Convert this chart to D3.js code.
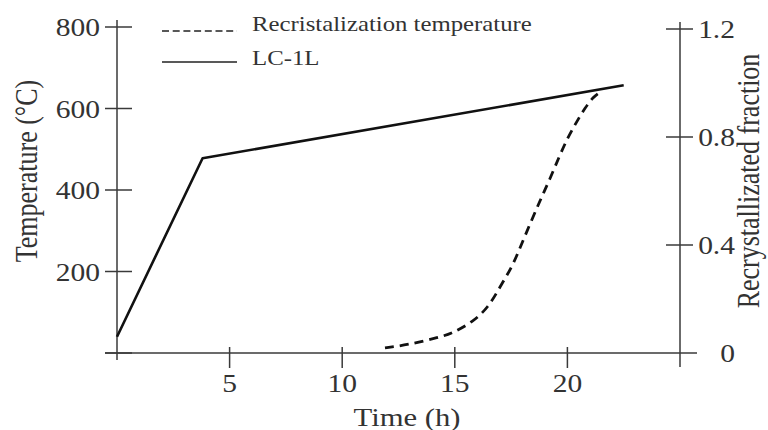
<!DOCTYPE html>
<html>
<head>
<meta charset="utf-8">
<script src="https://cdn.jsdelivr.net/npm/d3@7/dist/d3.min.js"></script>
<style>
  html, body { margin: 0; padding: 0; background: #fff; }
  svg { display: block; }
  text { font-family: "Liberation Serif", serif; fill: #333; }
</style>
</head>
<body>
<div id="chart"></div>
<script>
// LC-1L temperature profile (time in h, temperature in degC)
const tempTime = [0, 3.8, 22.5];
const tempValue = [40, 478, 657];

// recrystallized fraction (dashed curve, right axis)
const fracTime = [11.9, 12.9, 14.35, 14.9, 15.8, 16.5, 17.0, 17.55, 17.9, 18.35, 18.8, 19.2, 19.65, 20.0, 20.4, 20.8, 21.15, 21.4];
const fracValue = [0.019, 0.03, 0.059, 0.074, 0.115, 0.17, 0.244, 0.32, 0.39, 0.48, 0.567, 0.64, 0.73, 0.795, 0.855, 0.91, 0.948, 0.963];

const xTicks = [5, 10, 15, 20];
const tempTicks = [200, 400, 600, 800];
const fracTicks = [0, 0.4, 0.8, 1.2];
const fracTickLabels = ["0", "0.4", "0.8", "1.2"];

const width = 768, height = 430;
const stretch = 1.18; // the source figure is slightly widened
const axisColor = "#3a3a3a";

const svg = d3.select("#chart").append("svg")
    .attr("width", width)
    .attr("height", height);

const x = d3.scaleLinear().domain([0, 25]).range([117, 680]);
const yT = d3.scaleLinear().domain([0, 800]).range([353, 27]);
const yF = d3.scaleLinear().domain([0, 1.2]).range([353, 29]);

function label(txt, px, py, size, anchor, rotate) {
    const g = svg.append("g")
        .attr("transform", `translate(${px},${py}) scale(${stretch},1)` + (rotate ? " rotate(-90)" : ""));
    g.append("text")
        .attr("text-anchor", anchor)
        .style("font-size", size + "px")
        .text(txt);
}

const axes = svg.append("g")
    .attr("stroke", axisColor)
    .attr("stroke-width", 1.5)
    .attr("fill", "none");

// left axis
axes.append("line").attr("x1", x(0)).attr("x2", x(0)).attr("y1", 20).attr("y2", 360);
tempTicks.forEach(v => {
    axes.append("line").attr("x1", x(0) - 12).attr("x2", x(0) + 15).attr("y1", yT(v)).attr("y2", yT(v));
    label(String(v), 100, yT(v) + 9, 25, "end");
});

// bottom axis
axes.append("line").attr("x1", 105).attr("x2", 697).attr("y1", yT(0)).attr("y2", yT(0));
axes.append("line").attr("x1", x(0) - 12).attr("x2", x(0) + 15).attr("y1", yT(0)).attr("y2", yT(0));
xTicks.forEach(v => {
    axes.append("line").attr("x1", x(v)).attr("x2", x(v)).attr("y1", yT(0) - 6).attr("y2", yT(0) + 15);
    label(String(v), x(v), 392, 25, "middle");
});

// right axis
axes.append("line").attr("x1", x(25)).attr("x2", x(25)).attr("y1", 22).attr("y2", 367);
fracTicks.forEach((v, i) => {
    if (v > 0) {
        axes.append("line").attr("x1", x(25) - 14).attr("x2", x(25) + 13).attr("y1", yF(v)).attr("y2", yF(v));
    }
    label(fracTickLabels[i], 735, yF(v) + 9, 25, "end");
});

// series
const tempLine = d3.line()
    .x(i => x(tempTime[i]))
    .y(i => yT(tempValue[i]));

svg.append("path")
    .attr("d", tempLine(d3.range(tempTime.length)))
    .attr("fill", "none")
    .attr("stroke", "#111")
    .attr("stroke-width", 2.6)
    .attr("stroke-linejoin", "round");

const fracLine = d3.line()
    .x(i => x(fracTime[i]))
    .y(i => yF(fracValue[i]))
    .curve(d3.curveBasis);

svg.append("path")
    .attr("d", fracLine(d3.range(fracTime.length)))
    .attr("fill", "none")
    .attr("stroke", "#111")
    .attr("stroke-width", 2.8)
    .attr("stroke-dasharray", "9,6");

// legend
svg.append("line")
    .attr("x1", 162).attr("x2", 237).attr("y1", 31).attr("y2", 31)
    .attr("stroke", "#222").attr("stroke-width", 1.4).attr("stroke-dasharray", "7,3.7");
label("Recristalization temperature", 252, 31, 21, "start");

svg.append("line")
    .attr("x1", 162).attr("x2", 237).attr("y1", 62).attr("y2", 62)
    .attr("stroke", "#222").attr("stroke-width", 1.4);
label("LC-1L", 252, 65, 21, "start");

// axis titles
label("Time (h)", 407, 426, 26, "middle");
label("Temperature (\u00B0C)", 37, 171, 26, "middle", true);
label("Recrystallizated fraction", 759, 181, 26, "middle", true);
</script>
</body>
</html>
